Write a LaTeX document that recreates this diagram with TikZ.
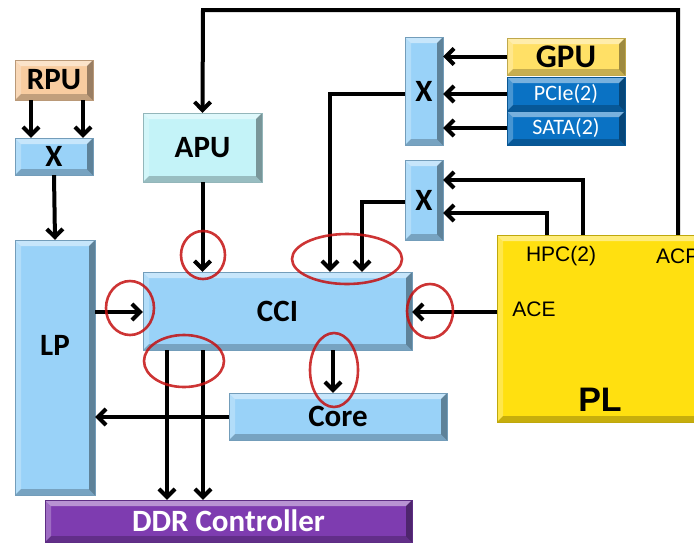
\documentclass[tikz,border=0pt]{standalone}
\usepackage{fontspec}
\setmainfont{Carlito}
\newfontfamily\arial{Liberation Sans}
\usetikzlibrary{arrows.meta,calc}
\definecolor{lblue}{HTML}{99D2F8}
\definecolor{cyanb}{HTML}{C4F3F8}
\definecolor{peach}{HTML}{F8CCA0}
\definecolor{gold}{HTML}{FFE066}
\definecolor{dblue}{HTML}{0A72C4}
\definecolor{purp}{HTML}{7E3CB0}
\definecolor{plyel}{HTML}{FFE010}
\definecolor{redc}{HTML}{C41010}
\tikzset{
  bev/.style={path picture={
    \fill[white,opacity=0.45] (path picture bounding box.north west) -- (path picture bounding box.north east)
      -- ([xshift=-6pt,yshift=-6pt]path picture bounding box.north east) -- ([xshift=6pt,yshift=-6pt]path picture bounding box.north west) -- cycle;
    \fill[white,opacity=0.25] (path picture bounding box.north west) -- (path picture bounding box.south west)
      -- ([xshift=6pt,yshift=6pt]path picture bounding box.south west) -- ([xshift=6pt,yshift=-6pt]path picture bounding box.north west) -- cycle;
    \fill[black,opacity=0.22] (path picture bounding box.south west) -- (path picture bounding box.south east)
      -- ([xshift=-6pt,yshift=6pt]path picture bounding box.south east) -- ([xshift=6pt,yshift=6pt]path picture bounding box.south west) -- cycle;
    \fill[black,opacity=0.38] (path picture bounding box.north east) -- (path picture bounding box.south east)
      -- ([xshift=-6pt,yshift=6pt]path picture bounding box.south east) -- ([xshift=-6pt,yshift=-6pt]path picture bounding box.north east) -- cycle;
  }},
  blk/.style={bev, draw=#1!75!black, line width=0.4pt, fill=#1, inner sep=0pt, font=\bfseries\fontsize{31}{33}\selectfont},
  conn/.style={line width=4pt, -{Straight Barb[length=8pt,width=16pt]}},
  hl/.style={draw=redc, line width=2.6pt, opacity=0.85},
  lab/.style={font=\arial\fontsize{21}{23}\selectfont, inner sep=0pt},
}
\begin{document}
\begin{tikzpicture}[x=1pt,y=-1pt]
\useasboundingbox (0,0) rectangle (694,542);
% blocks
\node[blk=peach, minimum width=78pt, minimum height=40pt] (rpu) at (54,80) {RPU};
\node[blk=lblue, minimum width=78pt, minimum height=37pt] (xl) at (54,156.5) {X};
\node[blk=lblue, minimum width=80pt, minimum height=255pt] (lp) at (55,367.5) {};
\node[font=\bfseries\fontsize{31}{33}\selectfont, inner sep=0pt] (lptext) at (55,345) {LP};
\node[blk=cyanb, minimum width=119pt, minimum height=69pt] (apu) at (202.5,147.5) {APU};
\node[blk=lblue, minimum width=269pt, minimum height=78pt] (cci) at (277.5,311) {CCI};
\node[blk=lblue, minimum width=218pt, minimum height=47pt] (core) at (338,416.5) {Core};
\node[blk=purp, minimum width=367pt, minimum height=42pt, text=white] (ddr) at (228.5,521) {DDR Controller};
\node[blk=lblue, minimum width=38pt, minimum height=108pt] (xu) at (424,91) {X};
\node[blk=lblue, minimum width=38pt, minimum height=80pt] (xm) at (424,200) {X};
\node[blk=gold, minimum width=118pt, minimum height=37pt, font=\bfseries\fontsize{33}{35}\selectfont] (gpu) at (566,56.5) {GPU};
\node[blk=dblue, minimum width=118pt, minimum height=34pt, text=white, font=\fontsize{22}{24}\selectfont] (pcie) at (566,94) {PCIe(2)};
\node[blk=dblue, minimum width=118pt, minimum height=34pt, text=white, font=\fontsize{22}{24}\selectfont] (sata) at (566,128) {SATA(2)};
\node[blk=plyel, minimum width=210pt, minimum height=187pt] (pl) at (602,328.5) {};
\node[lab] (hpc) at (561,256) {HPC(2)};
\node[lab, anchor=west] (acp) at (656,256) {ACP};
\node[lab] (ace) at (534,309) {ACE};
\node[font=\arial\bfseries\fontsize{34}{36}\selectfont, inner sep=0pt] (pltext) at (600,400) {PL};
% connectors
\draw[conn] (rpu.south -| 31,0) -- (xl.north -| 31,0);
\draw[conn] (rpu.south -| 83,0) -- (xl.north -| 83,0);
\draw[conn] (xl.south) -- (lp.north);
\draw[conn] (pl.north -| 678,0) -- (678,10) -- (203,10) -- (apu.north);
\draw[conn] (apu.south) -- (cci.north -| apu.south);
\draw[conn] (lp.east |- 0,312) -- (cci.west |- 0,312);
\draw[conn] (pl.west |- 0,312) -- (cci.east |- 0,312);
\draw[conn] (xu.west |- 0,94) -- (330,94) -- (cci.north -| 330,0);
\draw[conn] (xm.west |- 0,202) -- (362,202) -- (cci.north -| 362,0);
\draw[conn] (gpu.west) -- (xu.east |- gpu.west);
\draw[conn] (pcie.west) -- (xu.east |- pcie.west);
\draw[conn] (sata.west) -- (xu.east |- sata.west);
\draw[conn] (pl.north -| 583,0) -- (583,180) -- (xm.east |- 0,180);
\draw[conn] (pl.north -| 547,0) -- (547,213) -- (xm.east |- 0,213);
\draw[conn] (cci.south -| 167,0) -- (ddr.north -| 167,0);
\draw[conn] (cci.south -| 203,0) -- (ddr.north -| 203,0);
\draw[conn] (cci.south -| 333,0) -- (core.north -| 333,0);
\draw[conn] (core.west |- 0,417) -- (lp.east |- 0,417);
% highlights
\draw[hl] (203,255) ellipse [x radius=22, y radius=24];
\draw[hl] (347,259) ellipse [x radius=55, y radius=25];
\draw[hl] (130,308) ellipse [x radius=24, y radius=27];
\draw[hl] (430,311) ellipse [x radius=23, y radius=27];
\draw[hl] (184,361) ellipse [x radius=40, y radius=26];
\draw[hl] (334,370) ellipse [x radius=24, y radius=37];
\end{tikzpicture}
\end{document}
